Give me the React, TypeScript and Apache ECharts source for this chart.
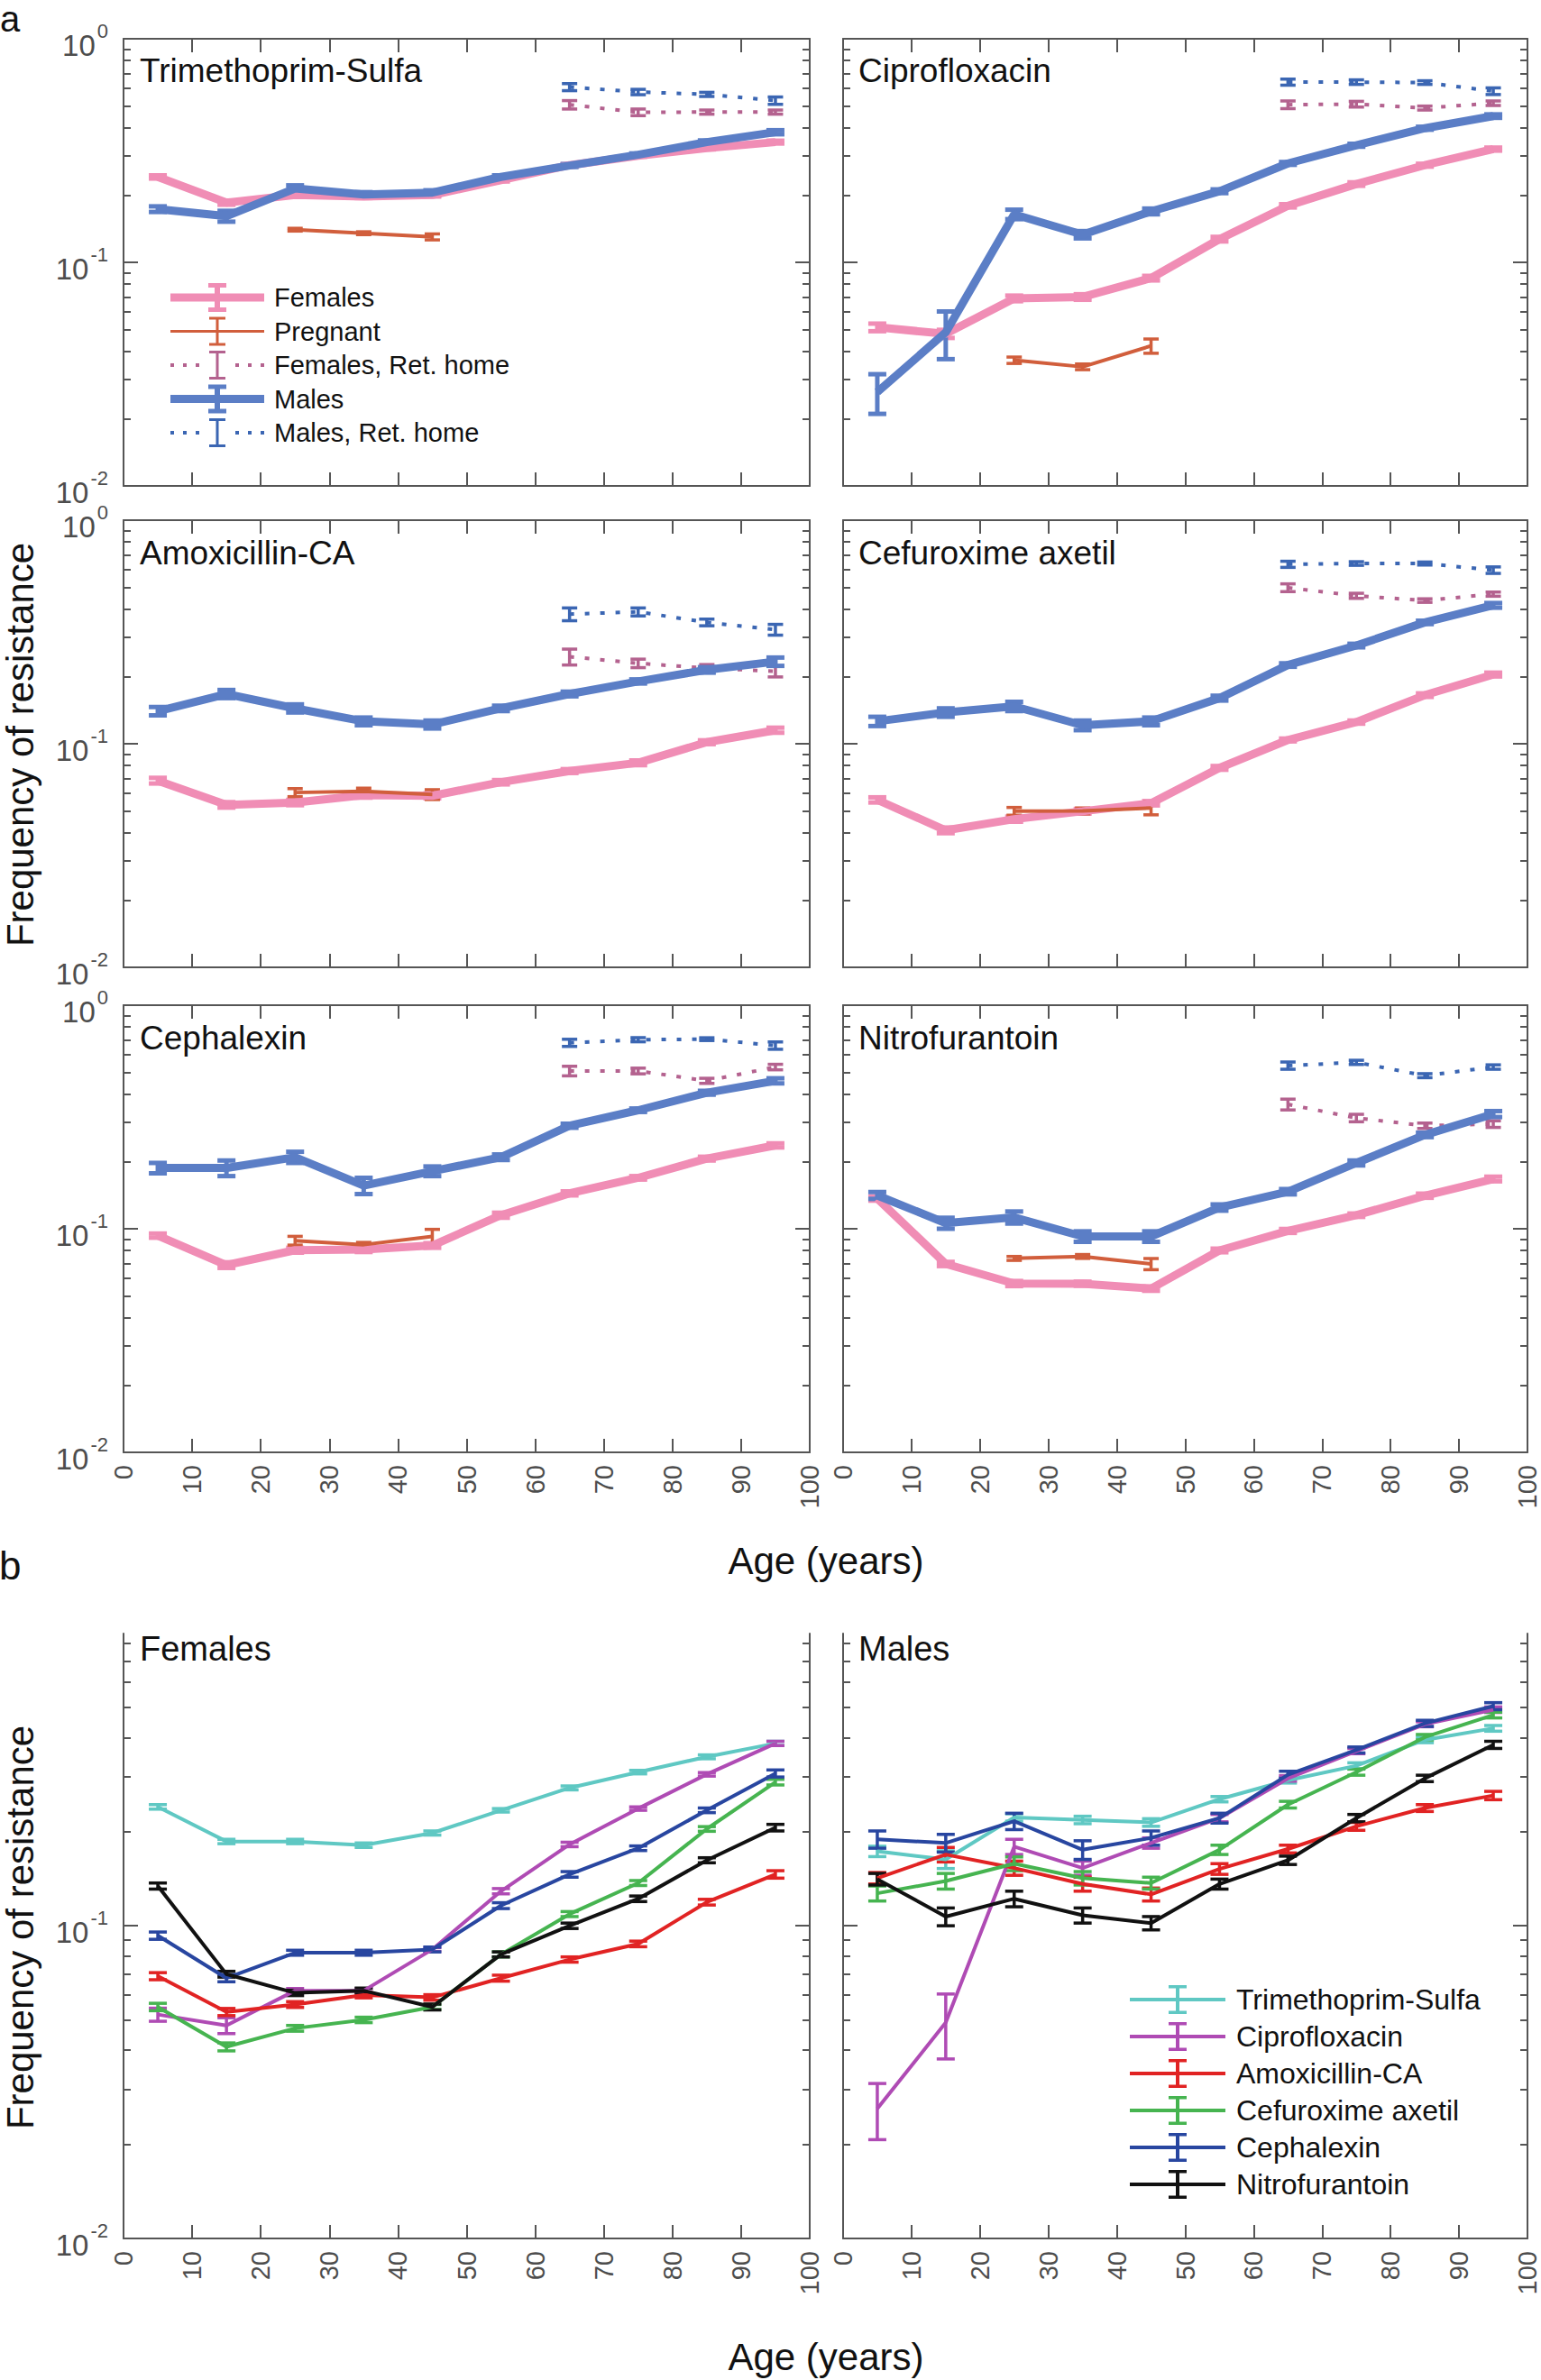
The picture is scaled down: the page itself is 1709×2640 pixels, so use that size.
import { useEffect, useRef } from "react";
import * as echarts from "echarts";

const FONT = "'Liberation Sans', Arial, Helvetica, sans-serif";
const AXIS_GRAY = "#555555";
const LABEL_GRAY = "#4d4d4d";

const AGES = [5, 15, 25, 35, 45, 55, 65, 75, 85, 95];
const PREGNANT_AGES = [25, 35, 45];
const HOME_AGES = [65, 75, 85, 95];
const DECADES = [0.01, 0.1, 1];
const MINOR_TICKS = [0.02, 0.03, 0.04, 0.05, 0.06, 0.07, 0.08, 0.09, 0.2, 0.3, 0.4, 0.5, 0.6, 0.7, 0.8, 0.9];

// ---- panel a: Trimethoprim-Sulfa
const tmpFemales = [0.241, 0.185, 0.2, 0.197, 0.2, 0.233, 0.272, 0.3, 0.324, 0.345];
const tmpFemalesErr = [0.004, 0.004, 0.003, 0.003, 0.003, 0.003, 0.003, 0.003, 0.004, 0.005];
const tmpMales = [0.173, 0.161, 0.214, 0.201, 0.205, 0.241, 0.271, 0.303, 0.345, 0.382];
const tmpMalesErr = [0.005, 0.009, 0.007, 0.005, 0.005, 0.004, 0.004, 0.004, 0.006, 0.008];
const tmpPregnant = [0.14, 0.135, 0.13];
const tmpPregnantErr = [0.002, 0.002, 0.004];
const tmpFemalesHome = [0.507, 0.469, 0.47, 0.47];
const tmpFemalesHomeErr = [0.022, 0.016, 0.01, 0.01];
const tmpMalesHome = [0.608, 0.578, 0.564, 0.529];
const tmpMalesHomeErr = [0.022, 0.016, 0.012, 0.02];

// ---- Ciprofloxacin
const cipFemales = [0.0512, 0.0479, 0.069, 0.07, 0.085, 0.127, 0.179, 0.224, 0.272, 0.321];
const cipFemalesErr = [0.002, 0.002, 0.002, 0.002, 0.002, 0.003, 0.003, 0.004, 0.004, 0.005];
const cipMales = [0.0263, 0.0486, 0.164, 0.133, 0.169, 0.208, 0.277, 0.334, 0.398, 0.451];
const cipMalesErr = [0.0053, 0.0117, 0.008, 0.005, 0.005, 0.004, 0.004, 0.005, 0.006, 0.008];
const cipPregnant = [0.0365, 0.0341, 0.0423];
const cipPregnantErr = [0.0012, 0.001, 0.0031];
const cipFemalesHome = [0.507, 0.51, 0.49, 0.515];
const cipFemalesHomeErr = [0.02, 0.015, 0.01, 0.012];
const cipMalesHome = [0.64, 0.64, 0.637, 0.583];
const cipMalesHomeErr = [0.02, 0.015, 0.012, 0.02];

// ---- Amoxicillin-CA
const amxFemales = [0.0684, 0.0533, 0.0546, 0.0589, 0.0585, 0.0673, 0.0755, 0.0822, 0.1016, 0.115];
const amxFemalesErr = [0.002, 0.0015, 0.0015, 0.0015, 0.0015, 0.0015, 0.0015, 0.002, 0.002, 0.003];
const amxMales = [0.14, 0.167, 0.144, 0.126, 0.122, 0.144, 0.167, 0.19, 0.214, 0.233];
const amxMalesErr = [0.006, 0.007, 0.006, 0.005, 0.005, 0.004, 0.004, 0.004, 0.006, 0.01];
const amxPregnant = [0.0605, 0.0613, 0.0593];
const amxPregnantErr = [0.0025, 0.002, 0.003];
const amxFemalesHome = [0.245, 0.229, 0.218, 0.211];
const amxFemalesHomeErr = [0.02, 0.01, 0.008, 0.012];
const amxMalesHome = [0.38, 0.389, 0.349, 0.324];
const amxMalesHomeErr = [0.025, 0.016, 0.012, 0.018];

// ---- Cefuroxime axetil
const cefFemales = [0.0561, 0.041, 0.046, 0.0499, 0.0542, 0.078, 0.104, 0.125, 0.165, 0.204];
const cefFemalesErr = [0.0015, 0.0012, 0.0012, 0.0012, 0.0012, 0.0015, 0.0015, 0.002, 0.003, 0.004];
const cefMales = [0.126, 0.138, 0.147, 0.121, 0.126, 0.16, 0.225, 0.275, 0.349, 0.416];
const cefMalesErr = [0.006, 0.006, 0.007, 0.006, 0.005, 0.004, 0.004, 0.005, 0.006, 0.01];
const cefPregnant = [0.0499, 0.0501, 0.0516];
const cefPregnantErr = [0.002, 0.0015, 0.0035];
const cefFemalesHome = [0.499, 0.459, 0.437, 0.467];
const cefFemalesHomeErr = [0.02, 0.012, 0.008, 0.01];
const cefMalesHome = [0.635, 0.64, 0.64, 0.598];
const cefMalesHomeErr = [0.02, 0.012, 0.01, 0.02];

// ---- Cephalexin
const cepFemales = [0.0932, 0.0688, 0.0802, 0.0807, 0.0842, 0.115, 0.144, 0.169, 0.206, 0.236];
const cepFemalesErr = [0.002, 0.002, 0.002, 0.002, 0.002, 0.003, 0.003, 0.003, 0.004, 0.005];
const cepMales = [0.187, 0.187, 0.209, 0.156, 0.181, 0.209, 0.289, 0.339, 0.406, 0.459];
const cepMalesErr = [0.01, 0.015, 0.012, 0.013, 0.009, 0.006, 0.006, 0.006, 0.008, 0.012];
const cepPregnant = [0.0885, 0.0849, 0.0924];
const cepPregnantErr = [0.004, 0.002, 0.007];
const cepFemalesHome = [0.508, 0.508, 0.459, 0.529];
const cepFemalesHomeErr = [0.025, 0.015, 0.012, 0.015];
const cepMalesHome = [0.679, 0.701, 0.705, 0.66];
const cepMalesHomeErr = [0.025, 0.015, 0.01, 0.025];

// ---- Nitrofurantoin
const nitFemales = [0.1366, 0.0696, 0.0569, 0.0568, 0.054, 0.08, 0.0978, 0.115, 0.1406, 0.167];
const nitFemalesErr = [0.003, 0.0015, 0.0015, 0.0012, 0.0012, 0.0015, 0.002, 0.002, 0.003, 0.004];
const nitMales = [0.141, 0.106, 0.1125, 0.0924, 0.0924, 0.1245, 0.1465, 0.197, 0.263, 0.326];
const nitMalesErr = [0.005, 0.006, 0.007, 0.005, 0.005, 0.004, 0.004, 0.005, 0.006, 0.01];
const nitPregnant = [0.0737, 0.0752, 0.0696];
const nitPregnantErr = [0.0015, 0.0015, 0.004];
const nitFemalesHome = [0.36, 0.313, 0.289, 0.294];
const nitFemalesHomeErr = [0.02, 0.012, 0.008, 0.01];
const nitMalesHome = [0.537, 0.555, 0.484, 0.529];
const nitMalesHomeErr = [0.02, 0.012, 0.01, 0.012];

// ---- panel b: Females
const bFemTmp = [0.24, 0.186, 0.186, 0.181, 0.198, 0.234, 0.276, 0.31, 0.347, 0.383];
const bFemTmpErr = [0.004, 0.003, 0.003, 0.003, 0.003, 0.003, 0.004, 0.004, 0.005, 0.006];
const bFemCip = [0.052, 0.048, 0.062, 0.062, 0.084, 0.129, 0.182, 0.237, 0.305, 0.383];
const bFemCipErr = [0.0025, 0.0028, 0.001, 0.001, 0.0012, 0.0025, 0.003, 0.003, 0.004, 0.006];
const bFemAmx = [0.069, 0.053, 0.056, 0.06, 0.059, 0.068, 0.078, 0.0875, 0.119, 0.146];
const bFemAmxErr = [0.0018, 0.0014, 0.0012, 0.0012, 0.0012, 0.0015, 0.0015, 0.0018, 0.0025, 0.004];
const bFemCef = [0.055, 0.041, 0.047, 0.05, 0.055, 0.081, 0.109, 0.137, 0.204, 0.288];
const bFemCefErr = [0.0015, 0.0012, 0.001, 0.001, 0.001, 0.0015, 0.002, 0.0025, 0.0035, 0.006];
const bFemCep = [0.093, 0.068, 0.082, 0.082, 0.084, 0.116, 0.146, 0.177, 0.234, 0.307];
const bFemCepErr = [0.0025, 0.0018, 0.0015, 0.0015, 0.0015, 0.0025, 0.003, 0.003, 0.004, 0.008];
const bFemNit = [0.134, 0.07, 0.061, 0.062, 0.055, 0.081, 0.1, 0.122, 0.162, 0.206];
const bFemNitErr = [0.003, 0.0015, 0.0012, 0.0012, 0.0012, 0.0015, 0.002, 0.0025, 0.003, 0.005];

// ---- panel b: Males
const bMalTmp = [0.173, 0.163, 0.222, 0.218, 0.214, 0.254, 0.292, 0.325, 0.393, 0.428];
const bMalTmpErr = [0.0066, 0.0106, 0.006, 0.006, 0.006, 0.005, 0.006, 0.007, 0.008, 0.009];
const bMalCip = [0.026, 0.049, 0.179, 0.153, 0.184, 0.221, 0.296, 0.362, 0.441, 0.491];
const bMalCipErr = [0.0053, 0.0115, 0.01, 0.008, 0.007, 0.006, 0.006, 0.007, 0.008, 0.01];
const bMalAmx = [0.142, 0.169, 0.153, 0.136, 0.126, 0.152, 0.176, 0.208, 0.238, 0.261];
const bMalAmxErr = [0.006, 0.009, 0.008, 0.007, 0.006, 0.006, 0.005, 0.006, 0.006, 0.008];
const bMalCef = [0.127, 0.139, 0.158, 0.142, 0.137, 0.175, 0.244, 0.31, 0.401, 0.472];
const bMalCefErr = [0.007, 0.008, 0.008, 0.007, 0.006, 0.006, 0.006, 0.007, 0.008, 0.01];
const bMalCep = [0.189, 0.184, 0.216, 0.175, 0.191, 0.221, 0.304, 0.365, 0.444, 0.504];
const bMalCepErr = [0.012, 0.012, 0.013, 0.012, 0.01, 0.008, 0.008, 0.008, 0.01, 0.013];
const bMalNit = [0.141, 0.107, 0.122, 0.108, 0.102, 0.136, 0.162, 0.221, 0.296, 0.379];
const bMalNitErr = [0.006, 0.007, 0.007, 0.006, 0.005, 0.005, 0.005, 0.006, 0.007, 0.01];

const DRUGS = ["Trimethoprim-Sulfa", "Ciprofloxacin", "Amoxicillin-CA", "Cefuroxime axetil", "Cephalexin", "Nitrofurantoin"];
const DRUG_COLORS = ["#5fc8c3", "#af4bb4", "#e12323", "#46b450", "#2846a0", "#111111"];

const GROUPS = ["Females", "Pregnant", "Females, Ret. home", "Males", "Males, Ret. home"];
const GROUP_COLORS = ["#f08db5", "#d15e3c", "#b4628f", "#5b7ec6", "#3b66b3"];

const PANELS_A = [
  { title: "Trimethoprim-Sulfa", f: tmpFemales, fe: tmpFemalesErr, m: tmpMales, me: tmpMalesErr, p: tmpPregnant, pe: tmpPregnantErr, fh: tmpFemalesHome, fhe: tmpFemalesHomeErr, mh: tmpMalesHome, mhe: tmpMalesHomeErr },
  { title: "Ciprofloxacin", f: cipFemales, fe: cipFemalesErr, m: cipMales, me: cipMalesErr, p: cipPregnant, pe: cipPregnantErr, fh: cipFemalesHome, fhe: cipFemalesHomeErr, mh: cipMalesHome, mhe: cipMalesHomeErr },
  { title: "Amoxicillin-CA", f: amxFemales, fe: amxFemalesErr, m: amxMales, me: amxMalesErr, p: amxPregnant, pe: amxPregnantErr, fh: amxFemalesHome, fhe: amxFemalesHomeErr, mh: amxMalesHome, mhe: amxMalesHomeErr },
  { title: "Cefuroxime axetil", f: cefFemales, fe: cefFemalesErr, m: cefMales, me: cefMalesErr, p: cefPregnant, pe: cefPregnantErr, fh: cefFemalesHome, fhe: cefFemalesHomeErr, mh: cefMalesHome, mhe: cefMalesHomeErr },
  { title: "Cephalexin", f: cepFemales, fe: cepFemalesErr, m: cepMales, me: cepMalesErr, p: cepPregnant, pe: cepPregnantErr, fh: cepFemalesHome, fhe: cepFemalesHomeErr, mh: cepMalesHome, mhe: cepMalesHomeErr },
  { title: "Nitrofurantoin", f: nitFemales, fe: nitFemalesErr, m: nitMales, me: nitMalesErr, p: nitPregnant, pe: nitPregnantErr, fh: nitFemalesHome, fhe: nitFemalesHomeErr, mh: nitMalesHome, mhe: nitMalesHomeErr },
];

const PANELS_B = [
  { title: "Females", values: [bFemTmp, bFemCip, bFemAmx, bFemCef, bFemCep, bFemNit], errs: [bFemTmpErr, bFemCipErr, bFemAmxErr, bFemCefErr, bFemCepErr, bFemNitErr] },
  { title: "Males", values: [bMalTmp, bMalCip, bMalAmx, bMalCef, bMalCep, bMalNit], errs: [bMalTmpErr, bMalCipErr, bMalAmxErr, bMalCefErr, bMalCepErr, bMalNitErr] },
];

// layout (px)
const COL_LEFT = [137, 935];
const COL_WIDTH = [761, 759];
const ROW_TOP_A = [43, 577, 1115];
const ROW_HEIGHT_A = 496;
const TOP_B = 1812;
const HEIGHT_B = 671;
const B_MAX = 0.86;

// legend icons (path drawn in the icon box)
const ICON_THICK = "path://M0 11.5H104V20.5H0Z M49 0H55V32H49Z M42 0H62V5H42Z M42 27H62V32H42Z";
const ICON_THIN = "path://M0 14.5H104V17.5H0Z M50.5 0H53.5V32H50.5Z M43 0H61V3H43Z M43 29H61V32H43Z";
const ICON_DOTTED =
  "path://M0 14H4V18H0Z M14 14H18V18H14Z M28 14H32V18H28Z M72 14H76V18H72Z M86 14H90V18H86Z M100 14H104V18H100Z M50.5 0H53.5V32H50.5Z M43 0H61V3H43Z M43 29H61V32H43Z";
const ICON_B = "path://M0 14H106V18H0Z M51 0H55V32H51Z M43 0H63V3.5H43Z M43 28.5H63V32H43Z";

function lineSeries(name: string, gi: number, ages: number[], values: number[], color: string, width: number, dotted = false) {
  return {
    name,
    type: "line",
    xAxisIndex: gi * 2,
    yAxisIndex: gi * 4,
    data: ages.map((a, i) => [a, values[i]]),
    symbol: "none",
    silent: true,
    lineStyle: { color, width, type: dotted ? [5, 12] : "solid", cap: "butt" },
    itemStyle: { color },
  };
}

function errorSeries(name: string, gi: number, ages: number[], values: number[], errs: number[], color: string, width: number, capWidth: number) {
  return {
    name,
    type: "custom",
    xAxisIndex: gi * 2,
    yAxisIndex: gi * 4,
    data: ages.map((a, i) => [a, values[i] - errs[i], values[i] + errs[i]]),
    encode: { x: 0, y: [1, 2] },
    silent: true,
    itemStyle: { color },
    // eslint-disable-next-line @typescript-eslint/no-explicit-any
    renderItem: (_params: any, api: any) => {
      const lo = api.coord([api.value(0), api.value(1)]);
      const hi = api.coord([api.value(0), api.value(2)]);
      const h = capWidth / 2;
      const style = { stroke: color, lineWidth: width, fill: "none" };
      return {
        type: "group",
        children: [
          { type: "line", shape: { x1: lo[0], y1: lo[1], x2: hi[0], y2: hi[1] }, style },
          { type: "line", shape: { x1: lo[0] - h, y1: lo[1], x2: lo[0] + h, y2: lo[1] }, style },
          { type: "line", shape: { x1: hi[0] - h, y1: hi[1], x2: hi[0] + h, y2: hi[1] }, style },
        ],
      };
    },
  };
}

function buildOption() {
  const grids: Array<{ left: number; top: number; width: number; height: number }> = [];
  for (let i = 0; i < 6; i++) {
    const row = Math.floor(i / 2);
    const col = i % 2;
    grids.push({ left: COL_LEFT[col], top: ROW_TOP_A[row], width: COL_WIDTH[col], height: ROW_HEIGHT_A });
  }
  grids.push({ left: COL_LEFT[0], top: TOP_B, width: COL_WIDTH[0], height: HEIGHT_B });
  grids.push({ left: COL_LEFT[1], top: TOP_B, width: COL_WIDTH[1], height: HEIGHT_B });

  const axisLine = { onZero: false, lineStyle: { color: AXIS_GRAY, width: 2 } };
  // eslint-disable-next-line @typescript-eslint/no-explicit-any
  const xAxes: any[] = [];
  // eslint-disable-next-line @typescript-eslint/no-explicit-any
  const yAxes: any[] = [];

  grids.forEach((_g, gi) => {
    const isA = gi < 6;
    const showXLabels = gi >= 4;
    const leftCol = gi % 2 === 0;
    const yMax = isA ? 1 : B_MAX;
    const decades = DECADES.filter((v) => v <= yMax);
    const minors = MINOR_TICKS.filter((v) => v < yMax);

    xAxes.push({
      gridIndex: gi,
      type: "value",
      position: "bottom",
      min: 0,
      max: 100,
      interval: 10,
      axisLine,
      axisTick: { inside: true, length: 15, lineStyle: { color: AXIS_GRAY, width: 2 } },
      axisLabel: {
        show: showXLabels,
        rotate: 90,
        margin: 14,
        fontSize: 29,
        color: LABEL_GRAY,
        fontFamily: FONT,
        showMinLabel: true,
        showMaxLabel: true,
      },
      splitLine: { show: false },
    });
    xAxes.push({
      gridIndex: gi,
      type: "value",
      position: "top",
      show: isA,
      min: 0,
      max: 100,
      interval: 10,
      axisLine,
      axisTick: { inside: true, length: 15, lineStyle: { color: AXIS_GRAY, width: 2 } },
      axisLabel: { show: false },
      splitLine: { show: false },
    });

    (["left", "right"] as const).forEach((pos) => {
      yAxes.push({
        gridIndex: gi,
        type: "log",
        logBase: 10,
        position: pos,
        min: 0.01,
        max: yMax,
        axisLine,
        axisTick: { inside: true, length: 16, customValues: decades, lineStyle: { color: AXIS_GRAY, width: 2 } },
        axisLabel: {
          show: pos === "left" && leftCol,
          customValues: decades,
          margin: 17,
          formatter: (v: number) => {
            const e = Math.round(Math.log10(v));
            if (Math.abs(Math.log10(v) - e) > 1e-6) return "";
            return `{base|10}{sup|${e}}`;
          },
          rich: {
            base: { fontSize: 33, fontFamily: FONT, color: LABEL_GRAY, lineHeight: 33, padding: [14, 0, 0, 0] },
            sup: { fontSize: 22, fontFamily: FONT, color: LABEL_GRAY, lineHeight: 22, padding: [0, 0, 18, 2] },
          },
        },
        splitLine: { show: false },
      });
      yAxes.push({
        gridIndex: gi,
        type: "log",
        logBase: 10,
        position: pos,
        min: 0.01,
        max: yMax,
        axisLine: { show: false, onZero: false },
        axisTick: { inside: true, length: 8, customValues: minors, lineStyle: { color: AXIS_GRAY, width: 2 } },
        axisLabel: { show: false },
        splitLine: { show: false },
      });
    });
  });

  // eslint-disable-next-line @typescript-eslint/no-explicit-any
  const series: any[] = [];
  PANELS_A.forEach((p, gi) => {
    series.push(lineSeries(GROUPS[0], gi, AGES, p.f, GROUP_COLORS[0], 9));
    series.push(errorSeries(GROUPS[0], gi, AGES, p.f, p.fe, GROUP_COLORS[0], 5, 20));
    series.push(lineSeries(GROUPS[1], gi, PREGNANT_AGES, p.p, GROUP_COLORS[1], 4));
    series.push(errorSeries(GROUPS[1], gi, PREGNANT_AGES, p.p, p.pe, GROUP_COLORS[1], 3.5, 17));
    series.push(lineSeries(GROUPS[2], gi, HOME_AGES, p.fh, GROUP_COLORS[2], 4, true));
    series.push(errorSeries(GROUPS[2], gi, HOME_AGES, p.fh, p.fhe, GROUP_COLORS[2], 3.5, 17));
    series.push(lineSeries(GROUPS[3], gi, AGES, p.m, GROUP_COLORS[3], 9));
    series.push(errorSeries(GROUPS[3], gi, AGES, p.m, p.me, GROUP_COLORS[3], 5, 20));
    series.push(lineSeries(GROUPS[4], gi, HOME_AGES, p.mh, GROUP_COLORS[4], 4, true));
    series.push(errorSeries(GROUPS[4], gi, HOME_AGES, p.mh, p.mhe, GROUP_COLORS[4], 3.5, 17));
  });
  PANELS_B.forEach((p, k) => {
    const gi = 6 + k;
    DRUGS.forEach((d, j) => {
      series.push(lineSeries(d, gi, AGES, p.values[j], DRUG_COLORS[j], 4));
      series.push(errorSeries(d, gi, AGES, p.values[j], p.errs[j], DRUG_COLORS[j], 3.5, 20));
    });
  });

  const text = (t: string, x: number, y: number, size: number, align = "left", rotation = 0, color = "#111111") => ({
    type: "text",
    x,
    y,
    rotation,
    silent: true,
    style: {
      text: t,
      fontSize: size,
      fontFamily: FONT,
      fill: color,
      align,
      textAlign: align,
      verticalAlign: "middle",
      textVerticalAlign: "middle",
    },
  });

  const titleX = [155, 952];
  const titleY = [78, 613, 1151];
  const graphic = [
    text("a", 0, 21, 40),
    text("b", -1, 1736, 44),
    ...PANELS_A.map((p, i) => text(p.title, titleX[i % 2], titleY[Math.floor(i / 2)], 37)),
    ...PANELS_B.map((p, i) => text(p.title, titleX[i], 1829, 38)),
    text("Frequency of resistance", 22, 826, 42, "center", Math.PI / 2),
    text("Frequency of resistance", 22, 2138, 42, "center", Math.PI / 2),
    text("Age (years)", 916, 1731, 42, "center"),
    text("Age (years)", 916, 2614, 42, "center"),
  ];

  const legendIcons = [ICON_THICK, ICON_THIN, ICON_DOTTED, ICON_THICK, ICON_DOTTED];

  return {
    animation: false,
    backgroundColor: "#ffffff",
    grid: grids,
    xAxis: xAxes,
    yAxis: yAxes,
    series,
    graphic,
    legend: [
      {
        left: 189,
        top: 314,
        orient: "vertical",
        padding: 0,
        itemWidth: 104,
        itemHeight: 32,
        itemGap: 5.5,
        selectedMode: false,
        itemStyle: { borderWidth: 0 },
        textStyle: { fontSize: 29, color: "#111111", fontFamily: FONT, padding: [0, 0, 0, 6] },
        data: GROUPS.map((g, i) => ({ name: g, icon: legendIcons[i] })),
      },
      {
        left: 1253,
        top: 2202,
        orient: "vertical",
        padding: 0,
        itemWidth: 106,
        itemHeight: 32,
        itemGap: 9,
        selectedMode: false,
        itemStyle: { borderWidth: 0 },
        textStyle: { fontSize: 32, color: "#111111", fontFamily: FONT, padding: [0, 0, 0, 7] },
        data: DRUGS.map((d) => ({ name: d, icon: ICON_B })),
      },
    ],
  };
}

export default function App() {
  const chartRef = useRef<HTMLDivElement>(null);

  useEffect(() => {
    if (!chartRef.current) return;
    document.body.style.margin = "0";
    const chart = echarts.init(chartRef.current, null, { renderer: "svg" });
    // eslint-disable-next-line @typescript-eslint/no-explicit-any
    chart.setOption(buildOption() as any);
    return () => {
      chart.dispose();
    };
  }, []);

  return <div ref={chartRef} style={{ width: 1709, height: 2640, background: "#fff" }} />;
}
